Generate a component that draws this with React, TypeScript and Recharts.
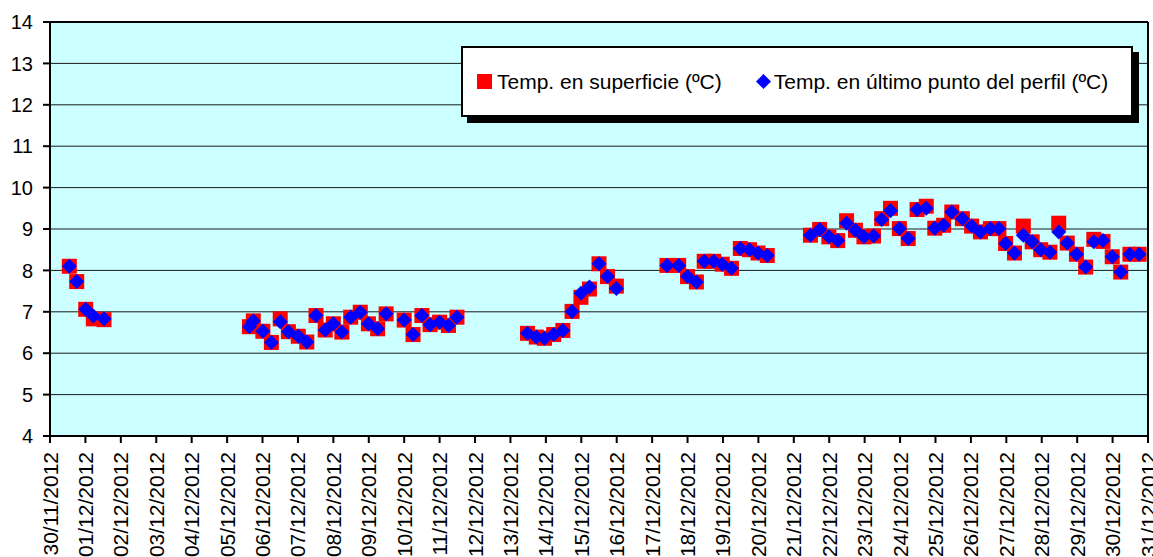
import React from "react";
import {
  ScatterChart,
  Scatter,
  XAxis,
  YAxis,
  CartesianGrid,
  ReferenceLine,
} from "recharts";

const dateLabels: string[] = [
  "30/11/2012", "01/12/2012", "02/12/2012", "03/12/2012", "04/12/2012", "05/12/2012",
  "06/12/2012", "07/12/2012", "08/12/2012", "09/12/2012", "10/12/2012", "11/12/2012",
  "12/12/2012", "13/12/2012", "14/12/2012", "15/12/2012", "16/12/2012", "17/12/2012",
  "18/12/2012", "19/12/2012", "20/12/2012", "21/12/2012", "22/12/2012", "23/12/2012",
  "24/12/2012", "25/12/2012", "26/12/2012", "27/12/2012", "28/12/2012", "29/12/2012",
  "30/12/2012", "31/12/2012",
];

const yTicks: number[] = [4, 5, 6, 7, 8, 9, 10, 11, 12, 13, 14];

// time in days since 30/11/2012 00:00
const times: number[] = [
  0.545, 0.754, 1.008, 1.223, 1.525,
  5.63, 5.74, 6.01, 6.25, 6.5, 6.73, 7.01, 7.25, 7.51, 7.77, 8.0, 8.24, 8.49, 8.76, 8.99,
  9.25, 9.49, 10.0, 10.25, 10.5, 10.73, 11.0, 11.25, 11.49,
  13.48, 13.73, 13.96, 14.22, 14.48, 14.74, 14.99, 15.23, 15.5, 15.74, 15.99,
  17.42, 17.75, 18.0, 18.25, 18.47, 18.74, 18.98, 19.24, 19.49, 19.75, 19.99, 20.25,
  21.47, 21.73, 21.99, 22.24, 22.49, 22.74, 22.98, 23.25, 23.48, 23.73, 23.98, 24.23,
  24.48, 24.74, 24.98, 25.23, 25.46, 25.76, 26.02, 26.27, 26.55, 26.79, 26.98, 27.23,
  27.48, 27.73, 27.97, 28.23, 28.48, 28.72, 28.98, 29.24, 29.47, 29.73, 29.99, 30.23,
  30.49, 30.75,
];

const tempSurface: number[] = [
  8.1, 7.73, 7.06, 6.83, 6.81,
  6.64, 6.78, 6.53, 6.26, 6.83, 6.52, 6.41, 6.27, 6.91, 6.56, 6.71, 6.51, 6.87, 6.99, 6.71,
  6.59, 6.95, 6.8, 6.45, 6.91, 6.69, 6.75, 6.67, 6.87,
  6.48, 6.39, 6.36, 6.45, 6.55, 7.01, 7.35, 7.55, 8.16, 7.85, 7.62,
  8.12, 8.12, 7.85, 7.72, 8.22, 8.22, 8.15, 8.05, 8.53, 8.5, 8.42, 8.36,
  8.85, 8.99, 8.81, 8.72, 9.2, 8.97, 8.81, 8.83, 9.25, 9.5, 9.01, 8.77,
  9.47, 9.55, 9.02, 9.09, 9.41, 9.25, 9.07, 8.93, 9.01, 9.01, 8.65, 8.42,
  9.07, 8.69, 8.5, 8.44, 9.14, 8.66, 8.39, 8.08, 8.75, 8.7, 8.33, 7.96,
  8.39, 8.39,
];

const tempLastPoint: number[] = [
  8.1, 7.73, 7.06, 6.9, 6.83,
  6.64, 6.78, 6.53, 6.26, 6.76, 6.52, 6.41, 6.27, 6.91, 6.56, 6.71, 6.51, 6.87, 6.99, 6.71,
  6.59, 6.95, 6.8, 6.45, 6.91, 6.69, 6.75, 6.67, 6.87,
  6.48, 6.39, 6.36, 6.45, 6.55, 7.01, 7.45, 7.6, 8.16, 7.85, 7.56,
  8.12, 8.12, 7.85, 7.72, 8.22, 8.22, 8.15, 8.05, 8.53, 8.5, 8.42, 8.36,
  8.85, 8.99, 8.81, 8.72, 9.14, 8.97, 8.81, 8.83, 9.23, 9.44, 9.01, 8.77,
  9.47, 9.5, 9.02, 9.09, 9.41, 9.25, 9.07, 8.93, 9.01, 9.01, 8.65, 8.42,
  8.85, 8.69, 8.5, 8.44, 8.93, 8.66, 8.39, 8.08, 8.69, 8.72, 8.33, 7.96,
  8.39, 8.39,
];

const seriesNames = [
  "Temp. en superficie (ºC)",
  "Temp. en último punto del perfil (ºC)",
];

const surfaceData = times.map((t, i) => ({ t, v: tempSurface[i] }));
const lastData = times.map((t, i) => ({ t, v: tempLastPoint[i] }));
const xTicks = dateLabels.map((_, i) => i);

const FONT = "'Liberation Sans', Arial, sans-serif";

const SquareShape = (props: any) => {
  const { cx, cy } = props;
  if (cx == null || cy == null) return null;
  return <rect x={cx - 7.5} y={cy - 7.5} width={15} height={15} fill="#FF0000" />;
};

const DiamondShape = (props: any) => {
  const { cx, cy } = props;
  if (cx == null || cy == null) return null;
  const r = 7.5;
  return (
    <polygon
      points={`${cx},${cy - r} ${cx + r},${cy} ${cx},${cy + r} ${cx - r},${cy}`}
      fill="#0000FF"
    />
  );
};

const XTick = (props: any) => {
  const { x, y, payload } = props;
  return (
    <g transform={`translate(${x},${y})`}>
      <text
        x={0}
        y={0}
        dy={7.5}
        textAnchor="end"
        transform="rotate(-90)"
        fill="#000"
        fontSize={21}
        fontFamily={FONT}
      >
        {dateLabels[payload.value]}
      </text>
    </g>
  );
};

const LegendBox = () => (
  <div
    style={{
      position: "absolute",
      left: 461,
      top: 46,
      width: 668,
      height: 67,
      background: "#fff",
      border: "2px solid #000",
      boxShadow: "6px 6px 0 #000",
      display: "flex",
      alignItems: "center",
      fontFamily: FONT,
      fontSize: 21,
      color: "#000",
      boxSizing: "content-box",
    }}
  >
    <svg width={15} height={15} style={{ marginLeft: 14, marginRight: 5 }}>
      <rect x={0} y={0} width={15} height={15} fill="#FF0000" />
    </svg>
    <span>{seriesNames[0]}</span>
    <svg width={15} height={15} style={{ marginLeft: 34, marginRight: 3 }}>
      <polygon points="7.5,0 15,7.5 7.5,15 0,7.5" fill="#0000FF" />
    </svg>
    <span>{seriesNames[1]}</span>
  </div>
);

export default function App() {
  return (
    <div style={{ position: "absolute", left: 0, top: 0, width: 1153, height: 557, background: "#fff" }}>
      <ScatterChart
        width={1153}
        height={557}
        margin={{ top: 22, right: 5, left: 0, bottom: 0 }}
      >
        <CartesianGrid
          horizontal={true}
          vertical={false}
          fill="#CCFFFF"
          stroke="#1a1a1a"
          strokeWidth={1}
        />
        <XAxis
          type="number"
          dataKey="t"
          domain={[0, 31]}
          ticks={xTicks}
          interval={0}
          height={121}
          tickSize={7}
          tickMargin={9}
          axisLine={{ stroke: "#000", strokeWidth: 2 }}
          tickLine={{ stroke: "#000", strokeWidth: 2 }}
          tick={<XTick />}
          allowDataOverflow
        />
        <YAxis
          type="number"
          dataKey="v"
          domain={[4, 14]}
          ticks={yTicks}
          interval={0}
          width={50}
          tickSize={7}
          tickMargin={10}
          axisLine={{ stroke: "#000", strokeWidth: 2 }}
          tickLine={{ stroke: "#000", strokeWidth: 2 }}
          tick={{ fill: "#000", fontSize: 20, fontFamily: FONT }}
          allowDataOverflow
        />
        <ReferenceLine y={14} stroke="#000" strokeWidth={2} />
        <ReferenceLine x={31} stroke="#000" strokeWidth={2} />
        <Scatter
          name={seriesNames[0]}
          data={surfaceData}
          shape={<SquareShape />}
          isAnimationActive={false}
        />
        <Scatter
          name={seriesNames[1]}
          data={lastData}
          shape={<DiamondShape />}
          isAnimationActive={false}
        />
      </ScatterChart>
      <LegendBox />
    </div>
  );
}
